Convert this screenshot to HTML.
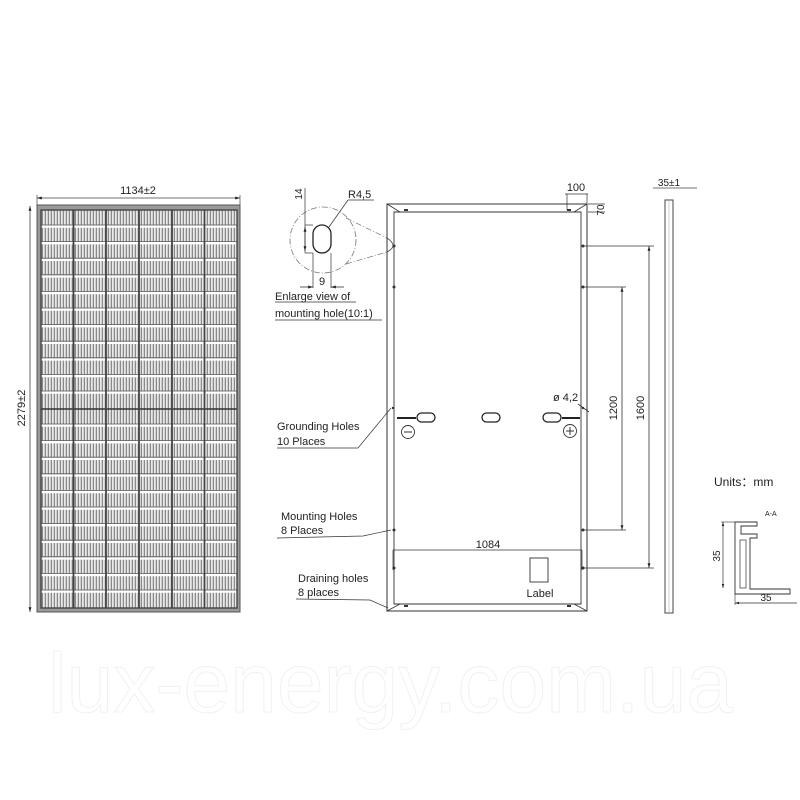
<!DOCTYPE html>
<html><head><meta charset="utf-8"><style>
html,body{margin:0;padding:0;background:#fff;}
svg{display:block;font-family:"Liberation Sans",Arial,sans-serif;}
</style></head><body>
<svg width="800" height="800" viewBox="0 0 800 800" xmlns="http://www.w3.org/2000/svg">
<defs>
<pattern id="fing" x="41" y="0" width="3" height="10" patternUnits="userSpaceOnUse">
<rect width="3" height="10" fill="#fff"/><rect x="0.6" width="1.6" height="10" fill="#8a8a8a"/>
</pattern>
<marker id="ar" viewBox="0 0 10 10" refX="10" refY="5" markerWidth="6" markerHeight="6" orient="auto-start-reverse"><path d="M0,2 L10,5 L0,8z" fill="#222"/></marker>
</defs>
<rect width="800" height="800" fill="#fff"/>
<text x="48" y="712" font-size="84" fill="#fff" stroke="#f1f1f1" stroke-width="1" textLength="685" lengthAdjust="spacingAndGlyphs">lux-energy.com.ua</text>

<text x="138" y="194" font-size="11" text-anchor="middle" fill="#222">1134±2</text>
<line x1="37" y1="198" x2="240" y2="198" stroke="#444" stroke-width="0.8" marker-start="url(#ar)" marker-end="url(#ar)"/>
<line x1="37" y1="195" x2="37" y2="205" stroke="#444" stroke-width="0.7"/>
<line x1="240" y1="195" x2="240" y2="205" stroke="#444" stroke-width="0.7"/>
<line x1="30" y1="206" x2="30" y2="612" stroke="#444" stroke-width="0.8" marker-start="url(#ar)" marker-end="url(#ar)"/>
<text transform="translate(25,408) rotate(-90)" font-size="11" text-anchor="middle" fill="#222">2279±2</text>
<rect x="37" y="205" width="203" height="407" fill="#9a9a9a" stroke="#555" stroke-width="1"/>
<rect x="41" y="210" width="196" height="398" fill="url(#fing)"/>
<g stroke="#fff" stroke-width="2.4">
<line x1="41" y1="226.6" x2="237" y2="226.6"/><line x1="41" y1="243.2" x2="237" y2="243.2"/><line x1="41" y1="259.8" x2="237" y2="259.8"/><line x1="41" y1="276.4" x2="237" y2="276.4"/><line x1="41" y1="293" x2="237" y2="293"/><line x1="41" y1="309.6" x2="237" y2="309.6"/><line x1="41" y1="326.2" x2="237" y2="326.2"/><line x1="41" y1="342.8" x2="237" y2="342.8"/><line x1="41" y1="359.4" x2="237" y2="359.4"/><line x1="41" y1="376" x2="237" y2="376"/><line x1="41" y1="392.6" x2="237" y2="392.6"/>
<line x1="41" y1="425.6" x2="237" y2="425.6"/><line x1="41" y1="442.2" x2="237" y2="442.2"/><line x1="41" y1="458.8" x2="237" y2="458.8"/><line x1="41" y1="475.4" x2="237" y2="475.4"/><line x1="41" y1="492" x2="237" y2="492"/><line x1="41" y1="508.6" x2="237" y2="508.6"/><line x1="41" y1="525.2" x2="237" y2="525.2"/><line x1="41" y1="541.8" x2="237" y2="541.8"/><line x1="41" y1="558.4" x2="237" y2="558.4"/><line x1="41" y1="575" x2="237" y2="575"/><line x1="41" y1="591.6" x2="237" y2="591.6"/>
</g>
<g stroke="#555" stroke-width="0.8">
<line x1="41" y1="225" x2="237" y2="225"/><line x1="41" y1="241.6" x2="237" y2="241.6"/><line x1="41" y1="258.2" x2="237" y2="258.2"/><line x1="41" y1="274.8" x2="237" y2="274.8"/><line x1="41" y1="291.4" x2="237" y2="291.4"/><line x1="41" y1="308" x2="237" y2="308"/><line x1="41" y1="324.6" x2="237" y2="324.6"/><line x1="41" y1="341.2" x2="237" y2="341.2"/><line x1="41" y1="357.8" x2="237" y2="357.8"/><line x1="41" y1="374.4" x2="237" y2="374.4"/><line x1="41" y1="391" x2="237" y2="391"/>
<line x1="41" y1="424" x2="237" y2="424"/><line x1="41" y1="440.6" x2="237" y2="440.6"/><line x1="41" y1="457.2" x2="237" y2="457.2"/><line x1="41" y1="473.8" x2="237" y2="473.8"/><line x1="41" y1="490.4" x2="237" y2="490.4"/><line x1="41" y1="507" x2="237" y2="507"/><line x1="41" y1="523.6" x2="237" y2="523.6"/><line x1="41" y1="540.2" x2="237" y2="540.2"/><line x1="41" y1="556.8" x2="237" y2="556.8"/><line x1="41" y1="573.4" x2="237" y2="573.4"/><line x1="41" y1="590" x2="237" y2="590"/>
</g>
<line x1="41" y1="409" x2="237" y2="409" stroke="#333" stroke-width="1.6"/>
<g stroke="#444" stroke-width="1.8">
<line x1="73.5" y1="210" x2="73.5" y2="608"/><line x1="106" y1="210" x2="106" y2="608"/><line x1="139" y1="210" x2="139" y2="608"/><line x1="172" y1="210" x2="172" y2="608"/><line x1="204.5" y1="210" x2="204.5" y2="608"/>
</g>
<rect x="41" y="210" width="196" height="398" fill="none" stroke="#444" stroke-width="1.4"/>

<circle cx="323" cy="240" r="33" fill="none" stroke="#777" stroke-width="0.8" stroke-dasharray="6,2,1,2"/>
<rect x="313" y="225" width="18" height="28" rx="9" fill="none" stroke="#222" stroke-width="1.3"/>
<line x1="305" y1="188" x2="305" y2="253" stroke="#333" stroke-width="0.7"/>
<line x1="305" y1="225" x2="313" y2="225" stroke="#333" stroke-width="0.7"/>
<line x1="305" y1="253" x2="313" y2="253" stroke="#333" stroke-width="0.7"/>
<line x1="305" y1="227" x2="305" y2="251" stroke="#333" stroke-width="0.8" marker-start="url(#ar)" marker-end="url(#ar)"/>
<text transform="translate(302,194) rotate(-90)" font-size="10" text-anchor="middle" fill="#222">14</text>
<text x="348" y="198" font-size="11" fill="#222">R4,5</text>
<line x1="348" y1="200" x2="374" y2="200" stroke="#333" stroke-width="0.7"/>
<line x1="348" y1="200" x2="329" y2="227" stroke="#333" stroke-width="0.7"/>
<line x1="313" y1="253" x2="313" y2="288" stroke="#333" stroke-width="0.7"/>
<line x1="331" y1="253" x2="331" y2="288" stroke="#333" stroke-width="0.7"/>
<line x1="300" y1="287" x2="313" y2="287" stroke="#333" stroke-width="0.8" marker-end="url(#ar)"/>
<line x1="344" y1="287" x2="331" y2="287" stroke="#333" stroke-width="0.8" marker-end="url(#ar)"/>
<text x="322" y="285" font-size="11" text-anchor="middle" fill="#222">9</text>
<text x="275" y="300" font-size="11" fill="#222">Enlarge view of</text>
<line x1="275" y1="302" x2="356" y2="302" stroke="#333" stroke-width="0.7"/>
<text x="275" y="317" font-size="11" fill="#222">mounting hole(10:1)</text>
<line x1="275" y1="320" x2="382" y2="320" stroke="#333" stroke-width="0.7"/>
<line x1="346" y1="218" x2="387" y2="238" stroke="#777" stroke-width="0.7" stroke-dasharray="6,2,1,2"/>
<line x1="346" y1="264" x2="387" y2="252" stroke="#777" stroke-width="0.7" stroke-dasharray="6,2,1,2"/>
<path d="M387,238 Q399,246 387,252" fill="none" stroke="#444" stroke-width="0.8"/>

<path d="M387,204 H587 V611 H387 Z" fill="none" stroke="#333" stroke-width="1"/>
<path d="M394,212 H581 V604 H394 Z" fill="none" stroke="#333" stroke-width="0.9"/>
<g stroke="#333" stroke-width="0.8">
<line x1="387" y1="204" x2="400" y2="212"/><line x1="587" y1="204" x2="574" y2="212"/>
<line x1="387" y1="611" x2="400" y2="604"/><line x1="587" y1="611" x2="574" y2="604"/>
</g>
<g fill="#333">
<circle cx="394" cy="246" r="1.5"/><circle cx="394" cy="287" r="1.5"/><circle cx="394" cy="530" r="1.5"/><circle cx="394" cy="568" r="1.5"/>
<circle cx="583" cy="246" r="1.5"/><circle cx="583" cy="287" r="1.5"/><circle cx="583" cy="530" r="1.5"/><circle cx="583" cy="568" r="1.5"/>
<circle cx="393" cy="408" r="1.2"/><circle cx="583" cy="408" r="1.2"/>
<rect x="404" y="209" width="4" height="2"/><rect x="567" y="209" width="4" height="2"/>
<rect x="404" y="605" width="4" height="2"/><rect x="567" y="605" width="4" height="2"/>
</g>
<text x="576" y="191" font-size="11" text-anchor="middle" fill="#222">100</text>
<line x1="565" y1="194" x2="588" y2="194" stroke="#333" stroke-width="0.7"/>
<line x1="567" y1="194" x2="567" y2="210" stroke="#333" stroke-width="0.7"/>
<line x1="587" y1="194" x2="587" y2="204" stroke="#333" stroke-width="0.7"/>
<line x1="588" y1="212" x2="605" y2="212" stroke="#333" stroke-width="0.7"/>
<line x1="588" y1="204" x2="605" y2="204" stroke="#333" stroke-width="0.7"/>
<text transform="translate(604,210) rotate(-90)" font-size="10" text-anchor="middle" fill="#222">70</text>
<g stroke="#333" stroke-width="0.7">
<line x1="584" y1="246" x2="654" y2="246"/><line x1="584" y1="568" x2="654" y2="568"/>
<line x1="584" y1="287" x2="626" y2="287"/><line x1="584" y1="530" x2="626" y2="530"/>
</g>
<line x1="649" y1="246" x2="649" y2="568" stroke="#333" stroke-width="0.8" marker-start="url(#ar)" marker-end="url(#ar)"/>
<line x1="622" y1="287" x2="622" y2="530" stroke="#333" stroke-width="0.8" marker-start="url(#ar)" marker-end="url(#ar)"/>
<text transform="translate(644,408) rotate(-90)" font-size="11" text-anchor="middle" fill="#222">1600</text>
<text transform="translate(617,408) rotate(-90)" font-size="11" text-anchor="middle" fill="#222">1200</text>
<g fill="none" stroke="#222" stroke-width="1.3">
<rect x="417" y="413" width="18" height="9" rx="4.5"/>
<rect x="482" y="413" width="18" height="9" rx="4.5"/>
<rect x="543" y="413" width="18" height="9" rx="4.5"/>
</g>
<g stroke="#222" stroke-width="2">
<line x1="397" y1="418" x2="416" y2="418"/><line x1="562" y1="418" x2="580" y2="418"/>
</g>
<circle cx="408" cy="432" r="6.5" fill="none" stroke="#333" stroke-width="0.9"/>
<line x1="404" y1="432" x2="412" y2="432" stroke="#333" stroke-width="1"/>
<circle cx="570" cy="431" r="6.5" fill="none" stroke="#333" stroke-width="0.9"/>
<line x1="566" y1="431" x2="574" y2="431" stroke="#333" stroke-width="1"/><line x1="570" y1="427" x2="570" y2="435" stroke="#333" stroke-width="1"/>
<text x="553" y="401" font-size="11" fill="#222">ø 4,2</text>
<line x1="578" y1="404" x2="589" y2="412" stroke="#333" stroke-width="0.8"/>
<text x="488" y="548" font-size="11" text-anchor="middle" fill="#222">1084</text>
<line x1="393" y1="550" x2="582" y2="550" stroke="#333" stroke-width="0.7"/>
<line x1="393" y1="550" x2="393" y2="570" stroke="#333" stroke-width="0.7"/>
<line x1="582" y1="550" x2="582" y2="570" stroke="#333" stroke-width="0.7"/>
<rect x="530" y="558" width="18" height="24" fill="none" stroke="#333" stroke-width="0.9"/>
<text x="540" y="597" font-size="11" text-anchor="middle" fill="#222">Label</text>
<text x="277" y="430" font-size="11" fill="#222">Grounding Holes</text>
<text x="277" y="445" font-size="11" fill="#222">10 Places</text>
<polyline points="277,448 358,448 391,408" fill="none" stroke="#333" stroke-width="0.7"/>
<text x="281" y="520" font-size="11" fill="#222">Mounting Holes</text>
<text x="281" y="534" font-size="11" fill="#222">8 Places</text>
<polyline points="277,538 363,536 391,530" fill="none" stroke="#333" stroke-width="0.7"/>
<text x="298" y="582" font-size="11" fill="#222">Draining holes</text>
<text x="298" y="596" font-size="11" fill="#222">8 places</text>
<polyline points="296,599 370,600 388,608" fill="none" stroke="#333" stroke-width="0.7"/>

<rect x="665" y="200" width="8" height="413" fill="none" stroke="#444" stroke-width="1"/>
<line x1="669" y1="201" x2="669" y2="612" stroke="#aaa" stroke-width="0.6"/>
<line x1="653" y1="188" x2="697" y2="188" stroke="#444" stroke-width="0.7"/>
<text x="669" y="186" font-size="10" text-anchor="middle" fill="#222">35±1</text>

<text x="714" y="486" font-size="12" fill="#222">Units：mm</text>
<text x="765" y="516" font-size="7" fill="#222">A-A</text>
<path d="M735,522 H757 V526 H741 V534 H757 V538 H750 V589 H790 V594 H735 Z" fill="#fff" stroke="#333" stroke-width="0.9"/>
<rect x="740" y="540" width="6" height="48" fill="none" stroke="#333" stroke-width="0.7"/>
<line x1="723" y1="522" x2="723" y2="588" stroke="#333" stroke-width="0.7" marker-start="url(#ar)" marker-end="url(#ar)"/>
<line x1="721" y1="522" x2="735" y2="522" stroke="#333" stroke-width="0.6"/>
<text transform="translate(720,556) rotate(-90)" font-size="10" text-anchor="middle" fill="#222">35</text>
<line x1="735" y1="603" x2="797" y2="603" stroke="#333" stroke-width="0.7" marker-start="url(#ar)"/>
<line x1="735" y1="594" x2="735" y2="605" stroke="#333" stroke-width="0.6"/>
<text x="766" y="601" font-size="10" text-anchor="middle" fill="#222">35</text>
</svg>
</body></html>
